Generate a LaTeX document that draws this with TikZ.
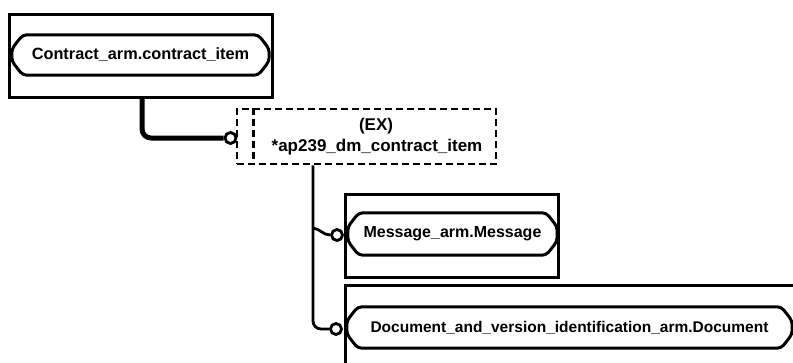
\documentclass[tikz,border=0pt]{standalone}
\usepackage{fontspec}
\setmainfont{Liberation Sans}
\tikzset{
  frame/.style={draw, line width=3pt, rectangle, inner sep=0pt},
  pillnode/.style={inner sep=0pt, font=\fontsize{15.5}{17}\selectfont\bfseries},
  pillline/.style={draw, line width=3pt, rounded corners=4pt},
  exframe/.style={draw, line width=2.8pt, dash pattern=on 7pt off 4pt, rectangle, inner sep=0pt},
  exline/.style={line width=2.8pt, dash pattern=on 7pt off 4pt},
  extext/.style={inner sep=0pt, font=\fontsize{17}{19}\selectfont\bfseries},
  ring/.style={draw, circle, line width=2.8pt, minimum size=11pt, inner sep=0pt, fill=white},
  thickrel/.style={line width=5pt, rounded corners=9pt},
  rel/.style={line width=2.8pt, rounded corners=8pt},
}
% outline of an entity name: a bar with chamfered, slightly rounded ends
\newcommand\pillframe[1]{%
  \draw[pillline]
    ([xshift=11pt]#1.north west) -- ([xshift=-11pt]#1.north east)
    -- ([yshift=-14pt]#1.north east) -- ([yshift=14pt]#1.south east)
    -- ([xshift=-11pt]#1.south east) -- ([xshift=11pt]#1.south west)
    -- ([yshift=14pt]#1.south west) -- ([yshift=-14pt]#1.north west)
    -- cycle;}
\begin{document}
\begin{tikzpicture}[x=1pt,y=-1pt]
\useasboundingbox (0,0) rectangle (793,362);
\clip (0,0) rectangle (793,362);

% Contract_arm.contract_item
\node[frame, minimum width=263pt, minimum height=83pt] (cibox) at (140.5,55.5) {};
\node[pillnode, font=\fontsize{16.3}{18}\selectfont\bfseries, minimum width=257pt, minimum height=40pt] (ci) at (140.5,55) {Contract\_arm.contract\_item};
\pillframe{ci}

% extensible select type
\node[exframe, minimum width=259pt, minimum height=55pt] (ex) at (366.5,136.5) {};
\draw[exline] ([xshift=18pt]ex.north west) -- ([xshift=18pt]ex.south west);
\node[extext] (extag) at (376,126) {(EX)};
\node[extext] (exname) at (377,147) {*ap239\_dm\_contract\_item};

% Message_arm.Message
\node[frame, minimum width=213pt, minimum height=83pt] (msgbox) at (451.5,235.5) {};
\node[pillnode, font=\fontsize{16}{18}\selectfont\bfseries, minimum width=209pt, minimum height=42pt] (msg) at (452.5,234) {Message\_arm.Message};
\pillframe{msg}

% Document_and_version_identification_arm.Document
\node[frame, minimum width=465pt, minimum height=95pt] (docbox) at (577.5,332.5) {};
\node[pillnode, minimum width=445pt, minimum height=41pt] (doc) at (569.5,327.5) {Document\_and\_version\_identification\_arm.Document};
\pillframe{doc}

% relationship ends
\node[ring] (r1) at (230.5,138) {};
\node[ring] (r2) at (337,235) {};
\node[ring] (r3) at (336,329) {};

% connectors
\draw[thickrel] ([xshift=1.5pt]cibox.south) |- (r1.west);
\coordinate (trunk) at ([xshift=-53.5pt]ex.south);
\draw[rel] (trunk) |- (r3.west);
\draw[line width=2.8pt] (trunk |- r2.north) to[out=-5,in=180] (r2.west);
\end{tikzpicture}
\end{document}
